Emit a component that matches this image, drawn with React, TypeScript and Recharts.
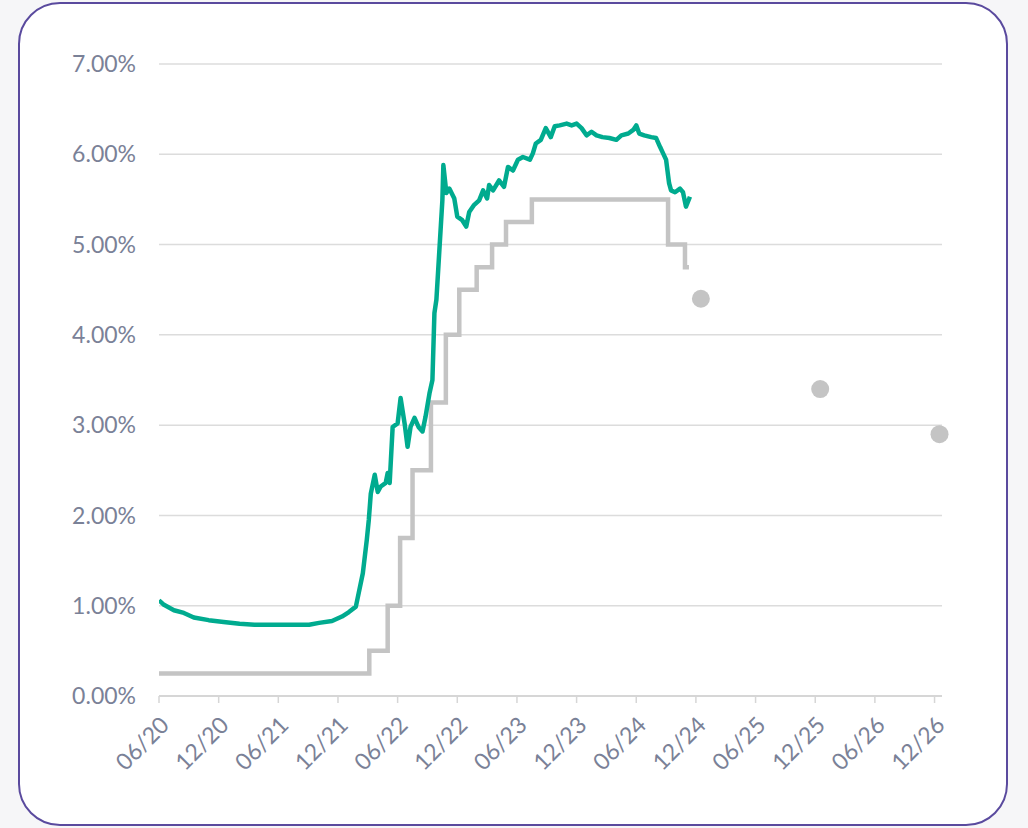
import React from "react";
import { LineChart, Line, XAxis, YAxis, CartesianGrid } from "recharts";

// ---------- Data (x = months since Jun 2020) ----------

const TICK_MONTHS = [0, 6, 12, 18, 24, 30, 36, 42, 48, 54, 60, 66, 72, 78];
const TICK_LABELS = [
    "06/20", "12/20", "06/21", "12/21", "06/22", "12/22", "06/23",
    "12/23", "06/24", "12/24", "06/25", "12/25", "06/26", "12/26",
];
const Y_TICKS = [0, 1, 2, 3, 4, 5, 6, 7];

// market rate (teal)
const RATE_MONTHS = [
    0, 0.5, 1.5, 2.5, 3.5, 5.0, 6.5, 8.1, 9.6, 12.1, 15.1, 16.1, 17.4, 18.4, 19.1, 19.8,
    20.5, 20.9, 21.1, 21.3, 21.7, 22.0, 22.3, 22.8, 23.0, 23.2, 23.5, 24.0, 24.3, 24.7,
    25.0, 25.3, 25.7, 26.1, 26.5, 26.8, 27.2, 27.5, 27.7, 27.9, 28.2, 28.5, 28.6, 28.9,
    29.2, 29.7, 30.0, 30.5, 30.9, 31.2, 31.7, 32.2, 32.6, 33.0, 33.2, 33.6, 34.2, 34.7,
    35.1, 35.6, 36.1, 36.6, 37.3, 37.6, 37.9, 38.4, 38.9, 39.4, 39.8, 40.3, 41.0, 41.5,
    42.0, 42.5, 43.0, 43.5, 44.0, 44.6, 45.3, 46.0, 46.5, 47.2, 47.7, 48.0, 48.3, 48.8,
    49.5, 50.0, 50.4, 50.7, 51.0, 51.3, 51.5, 51.9, 52.4, 52.7, 53.0, 53.4,
];
const RATE_VALUES = [
    1.06, 1.01, 0.95, 0.92, 0.87, 0.84, 0.82, 0.80, 0.79, 0.79, 0.79, 0.81, 0.83, 0.88, 0.93, 0.99,
    1.36, 1.73, 1.95, 2.24, 2.45, 2.26, 2.32, 2.36, 2.47, 2.36, 2.98, 3.02, 3.30, 3.02,
    2.76, 2.98, 3.08, 2.98, 2.93, 3.09, 3.35, 3.50, 4.24, 4.39, 4.94, 5.49, 5.88, 5.57,
    5.62, 5.51, 5.31, 5.27, 5.20, 5.36, 5.44, 5.49, 5.60, 5.51, 5.66, 5.60, 5.71, 5.64,
    5.86, 5.82, 5.94, 5.97, 5.94, 6.01, 6.12, 6.16, 6.29, 6.19, 6.31, 6.32, 6.34, 6.32,
    6.34, 6.29, 6.21, 6.25, 6.21, 6.19, 6.18, 6.16, 6.21, 6.23, 6.27, 6.32, 6.23, 6.21,
    6.19, 6.18, 6.08, 6.01, 5.94, 5.68, 5.60, 5.58, 5.62, 5.58, 5.42, 5.53,
];

// policy rate (grey steps)
const POLICY_MONTHS = [0, 21.15, 23.0, 24.25, 25.5, 27.35, 28.85, 30.2, 31.95, 33.5, 34.9, 37.5, 51.2, 52.9, 53.3];
const POLICY_VALUES = [0.25, 0.5, 1.0, 1.75, 2.5, 3.25, 4.0, 4.5, 4.75, 5.0, 5.25, 5.5, 5.0, 4.75, 4.75];

// projections (grey dots)
const PROJ_MONTHS = [54.5, 66.5, 78.5];
const PROJ_VALUES = [4.4, 3.4, 2.9];

const TEAL = "#00ab8f";
const GREY = "#c4c4c4";
const LABEL = "#7a8197";

const rateData = RATE_MONTHS.map((m, i) => ({ m, v: RATE_VALUES[i] }));
const policyData = POLICY_MONTHS.map((m, i) => ({ m, v: POLICY_VALUES[i] }));
const projData = PROJ_MONTHS.map((m, i) => ({ m, v: PROJ_VALUES[i] }));

const tickFont = { fontSize: 23, fill: LABEL, fontFamily: "Lato, 'Open Sans', sans-serif" };

export default function App() {
    return (
        <div style={{ position: "absolute", left: 0, top: 0, width: 1028, height: 828, background: "#f6f6f8" }}>
            <div
                style={{
                    position: "absolute",
                    left: 18,
                    top: 2,
                    width: 990,
                    height: 824,
                    boxSizing: "border-box",
                    border: "2px solid #5a4a9e",
                    borderRadius: 42,
                    background: "#fff",
                }}
            />
            <div style={{ position: "absolute", left: 0, top: 0 }}>
                <LineChart width={1028} height={828} margin={{ top: 64, right: 86, left: 0, bottom: 52 }}>
                    <CartesianGrid vertical={false} stroke="#dcdcdc" strokeWidth={1.5} />
                    <XAxis
                        dataKey="m"
                        type="number"
                        domain={[0, 78.75]}
                        ticks={TICK_MONTHS}
                        tickFormatter={(v: number) => TICK_LABELS[TICK_MONTHS.indexOf(v)]}
                        tick={{ ...tickFont, angle: -45, textAnchor: "end" }}
                        tickSize={7}
                        tickMargin={12}
                        stroke="#d6d6d6"
                        axisLine={{ stroke: "#d6d6d6", strokeWidth: 2 }}
                        tickLine={{ stroke: "#d6d6d6", strokeWidth: 1.5 }}
                        height={80}
                        interval={0}
                        allowDataOverflow
                    />
                    <YAxis
                        type="number"
                        domain={[0, 7]}
                        ticks={Y_TICKS}
                        tickFormatter={(v: number) => `${v.toFixed(2)}%`}
                        tick={tickFont}
                        axisLine={false}
                        tickLine={false}
                        tickMargin={17}
                        width={159}
                    />
                    <Line
                        data={policyData}
                        dataKey="v"
                        type="stepAfter"
                        stroke={GREY}
                        strokeWidth={4.5}
                        dot={false}
                        isAnimationActive={false}
                    />
                    <Line
                        data={rateData}
                        dataKey="v"
                        type="linear"
                        stroke={TEAL}
                        strokeWidth={4.5}
                        strokeLinejoin="round"
                        dot={false}
                        isAnimationActive={false}
                    />
                    <Line
                        data={projData}
                        dataKey="v"
                        stroke="none"
                        dot={{ r: 9, fill: GREY, stroke: "none", clipDot: false }}
                        isAnimationActive={false}
                    />
                </LineChart>
            </div>
        </div>
    );
}
